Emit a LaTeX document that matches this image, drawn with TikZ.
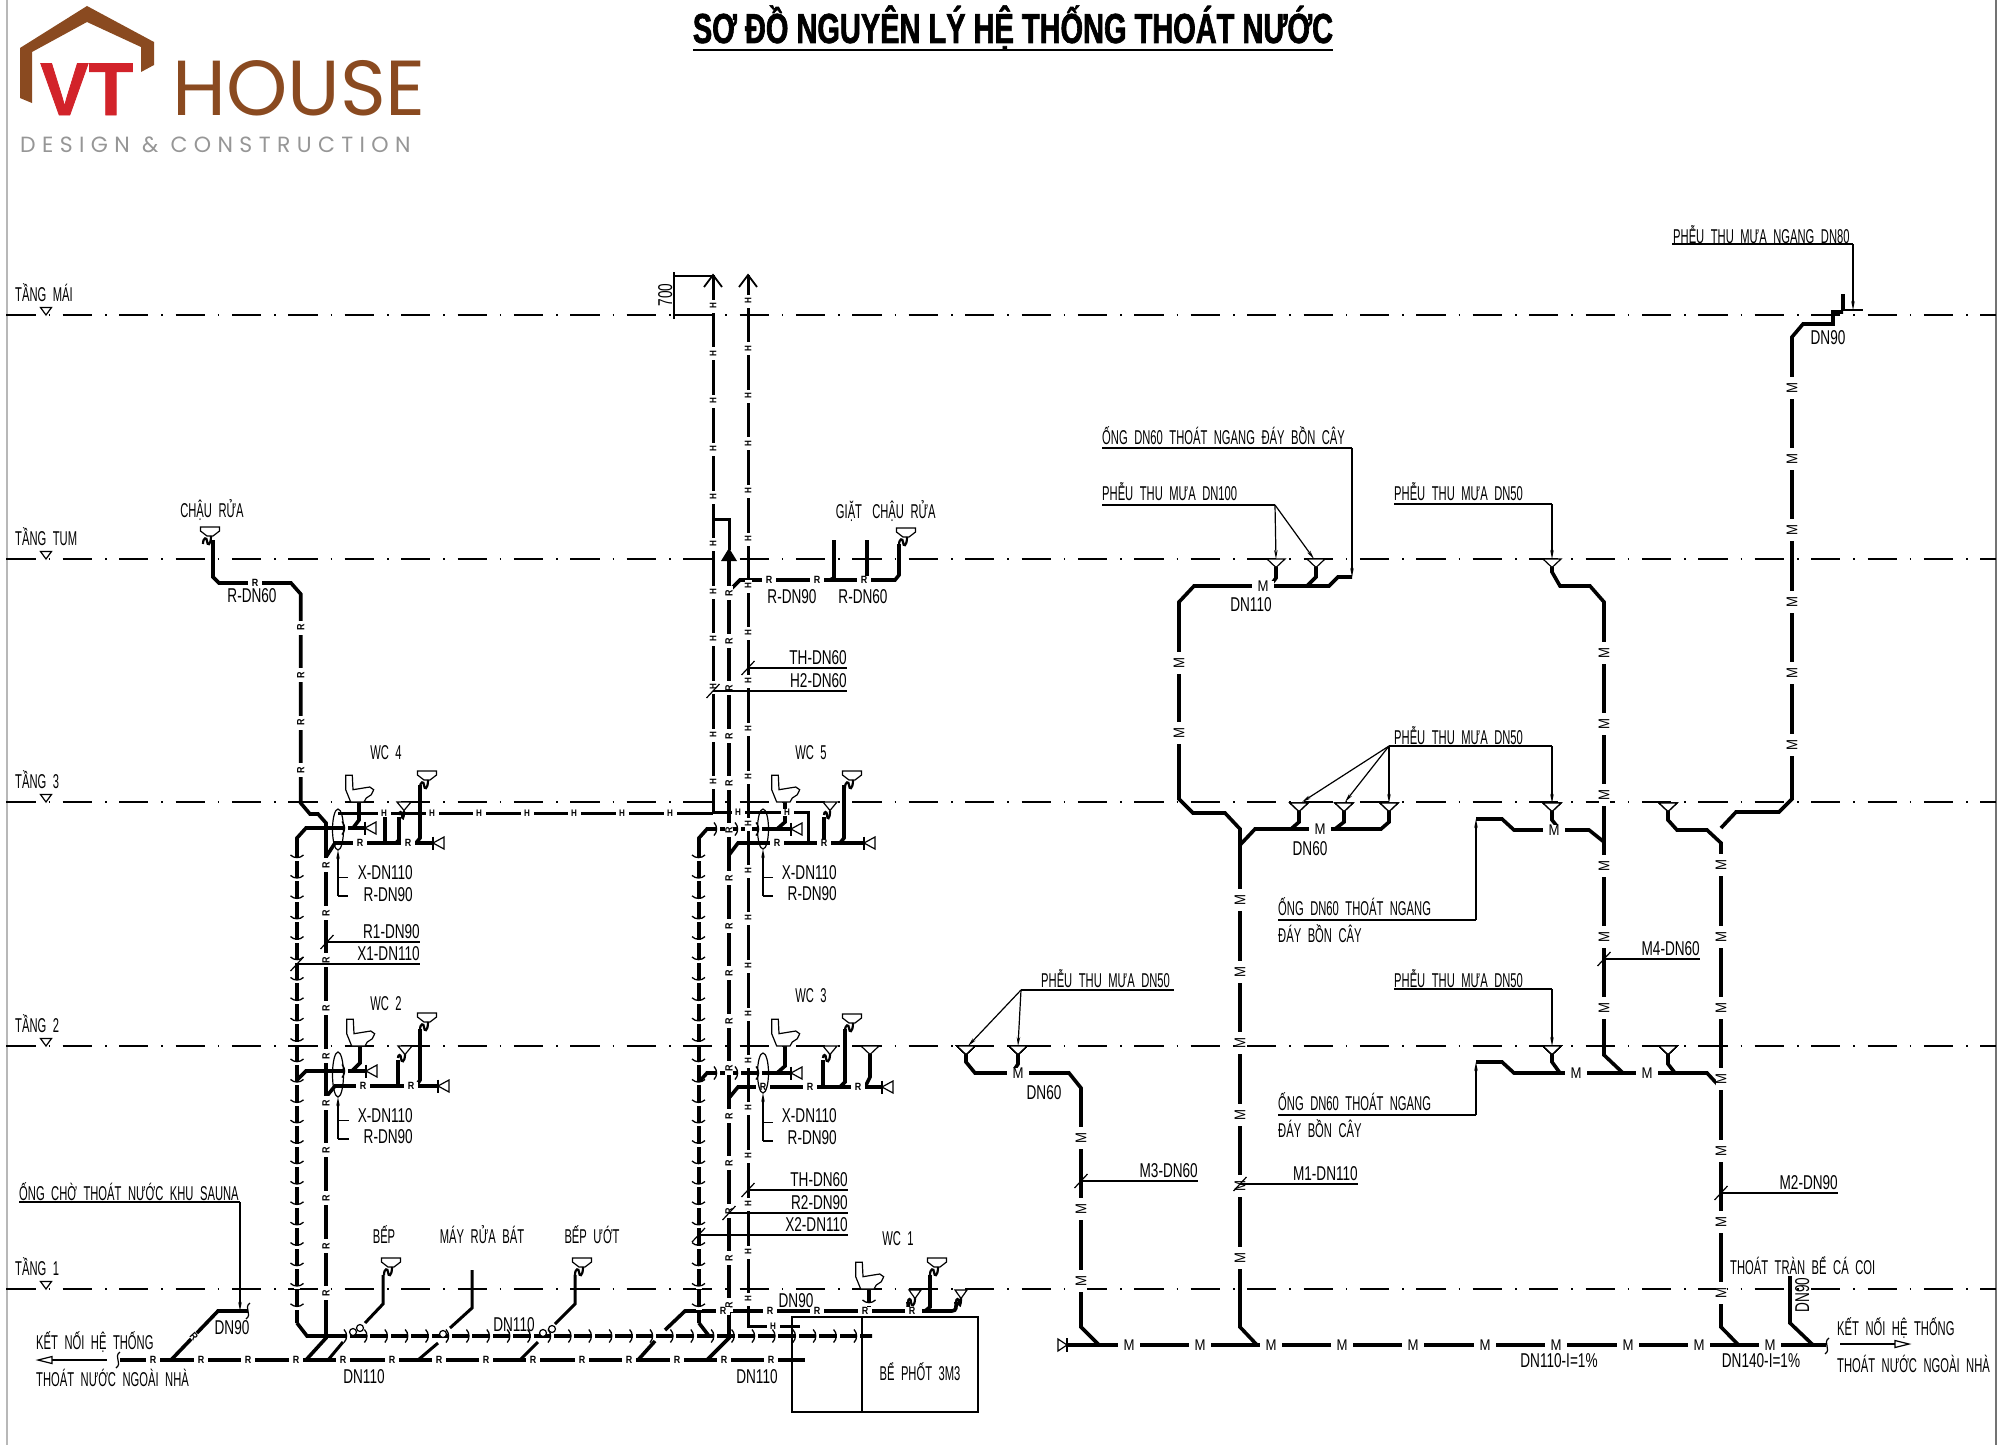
\documentclass[tikz,border=0pt]{standalone}
\usepackage{fontspec}
\usetikzlibrary{arrows.meta}
\setmainfont[FakeStretch=0.68]{Liberation Sans}
\newfontfamily\capfont[FakeStretch=0.56,WordSpace=2.1]{Liberation Sans}
\newfontfamily\tagfont[FakeStretch=0.85]{Liberation Sans}
\newfontfamily\ttlfont[FakeStretch=0.69,FakeBold=1.5]{Liberation Sans}
\newfontfamily\logofont{Poppins}
\newfontfamily\vtfont[FakeStretch=0.97,FakeBold=1]{Liberation Sans}
\newfontfamily\subfont[LetterSpace=29]{Poppins}
\definecolor{brownlogo}{HTML}{8A4A20}
\definecolor{redlogo}{HTML}{D2232A}
\definecolor{graylogo}{HTML}{969696}
\tikzset{x=1pt,y=-1pt,
 pipeT/.style={line width=3.6pt,miter limit=10},
 pipeM/.style={line width=3pt},
 pipeS/.style={line width=2.2pt},
 thinl/.style={line width=1.2pt},
 leader/.style={line width=1.2pt,-{Stealth[length=9pt,width=3.5pt]}},
 sym/.style={line width=1.2pt,fill=white},
 levelline/.style={line width=1.5pt,dash pattern=on 29.3pt off 13pt on 1.5pt off 12.6pt},
 txt/.style={inner sep=0pt,text height=14.3pt,text depth=0pt,font=\fontsize{20}{22}\selectfont},
 vtxt/.style={txt,font=\capfont\fontsize{20}{22}\selectfont},
 tagR/.style={inner sep=0pt,fill=white,minimum width=14pt,minimum height=8pt,font=\tagfont\fontsize{10.5}{10}\bfseries\selectfont},
 tagH/.style={inner sep=0pt,fill=white,minimum width=13pt,minimum height=7pt,font=\tagfont\fontsize{9.5}{9}\bfseries\selectfont},
 tagM/.style={inner sep=0pt,fill=white,minimum width=22pt,minimum height=11pt,font=\tagfont\fontsize{15.5}{14}\selectfont},
}
\newcommand\sinkT[2]{%
 \draw[sym] (#1-9.5,#2)--(#1+9.5,#2)--(#1+9.5,#2+4)--(#1+3,#2+9)--(#1-3,#2+9)--(#1-9.5,#2+4)--cycle;
 \draw[pipeS] (#1-7,#2+17) .. controls (#1-7,#2+10) and (#1-3,#2+10) .. (#1-3,#2+14) .. controls (#1-3,#2+19) and (#1+1,#2+19) .. (#1+1,#2+9);}
\newcommand\fun[3]{\draw[sym] (#1-#3,#2)--(#1+#3,#2)--(#1,#2+8.5)--cycle;}
\newcommand\trapF[3]{\draw[pipeS] (#1,#3+4) .. controls (#1,#3) and (#1+3,#3) .. (#1+3,#3+4) .. controls (#1+3,#3+9) and (#2,#3+9) .. (#2,#3);}
\newcommand\toil[2]{\begin{scope}[shift={(#1,#2)}]
 \draw[sym] (-13.3,-26.7)--(-6.7,-26.7)--(-6,-12.3)--(10.7,-15)--(14.7,-12.3)--(12.3,-7.3)--(7.3,-4)--(5,0)--(-8.3,0)--(-13.3,-12.3)--cycle;
 \end{scope}}
\newcommand\cleanL[2]{\draw[line width=1.6pt] (#1,#2-6.5)--(#1,#2+6.5);\draw[sym] (#1,#2)--(#1+11,#2-6)--(#1+11,#2+6)--cycle;}
\newcommand\jv[2]{\fill[white] (#1-3,#2)rectangle(#1+3,#2+3);\draw[line width=1.3pt] (#1-6.5,#2-3) .. controls (#1-3,#2+0.5) and (#1+3,#2+0.5) .. (#1+6.5,#2-3);}
\newcommand\jh[2]{\fill[white] (#1,#2-3)rectangle(#1+3,#2+3);\draw[line width=1.3pt] (#1-3,#2-6.5) .. controls (#1+0.5,#2-3) and (#1+0.5,#2+3) .. (#1-3,#2+6.5);}
\newcommand\squig[2]{\draw[line width=1.2pt] (#1+2,#2-8) .. controls (#1-5,#2-3) and (#1+5,#2+3) .. (#1-2,#2+8);}
\newcommand\slashT[2]{\draw[line width=1.2pt] (#1-6.5,#2+7)--(#1+6.5,#2-7);}
\newcommand\openL[2]{\draw[line width=1.2pt,fill=white] (#1,#2)--(#1+14,#2-3.5)--(#1+14,#2+3.5)--cycle;}
\newcommand\openR[2]{\draw[line width=1.2pt,fill=white] (#1,#2)--(#1-14,#2-3.5)--(#1-14,#2+3.5)--cycle;}
\newcommand\levmark[3]{\draw[sym] (40.5,#1-7.5)--(51.5,#1-7.5)--(46,#1)--cycle;
 \node[vtxt,anchor=west] (#3) at (15,#1-21) {#2};}
\begin{document}
\begin{tikzpicture}
\useasboundingbox (0,0) rectangle (2000,1445);
\fill[white] (0,0) rectangle (2000,1445);
\draw[line width=2.5pt,color=black!28] (7,0)--(7,1445);
\draw[line width=1.2pt,color=black!55] (1996,0)--(1996,1445);
% ---- logo
\fill[brownlogo] (87,6)--(154,42)--(154,65)--(141,72)--(141,47)--(87,22)--(32,52)--(32,103)--(20,98)--(20,48)--cycle;
\node[inner sep=0pt,anchor=base west,text=redlogo,text depth=0pt,font=\vtfont\fontsize{75}{75}\bfseries\selectfont] (vt) at (40,115) {VT};
\node[inner sep=0pt,anchor=base west,text=brownlogo,text depth=0pt,font=\logofont\fontsize{78}{78}\selectfont] (house) at (172,115) {HOUSE};
\node[inner sep=0pt,anchor=base west,text=graylogo,font=\subfont\fontsize{22}{22}\selectfont] (sub) at (20,152) {DESIGN \& CONSTRUCTION};
% ---- title
\node[inner sep=0pt,anchor=base,font=\ttlfont\fontsize{42}{42}\bfseries\selectfont] (title) at (1013,43) {SƠ ĐỒ NGUYÊN LÝ HỆ THỐNG THOÁT NƯỚC};
\draw[line width=1.8pt] (693,50)--(1333,50);
% ======== LEFT GROUP pipes
\draw[pipeT] (213,540)--(213,577)--(219,583)--(291,583)--(300.7,594)--(300.7,803)--(310,814)--(318,814)--(326,823)--(326,1338)--(306,1360);
\draw[pipeT] (297,1323)--(297,838)--(306,828)--(365,828);
\draw[pipeT] (297,1323)--(307,1336)--(872,1336);
\draw[pipeT] (326,857)--(335,843)--(433,843);
\draw[pipeT] (359,802)--(359,820)--(353,828);
\draw[pipeM] (338,813)--(713,813);
\draw[pipeT] (385,813)--(385,843);
\draw[pipeT] (399,817)--(399,840)--(396,843);
\draw[pipeT] (420,785)--(420,838)--(416,843);
\draw[pipeT] (297,1080)--(306,1071)--(366,1071);
\draw[pipeT] (360,1046)--(360,1063)--(352,1071);
\draw[pipeT] (326,1097)--(335,1086)--(438,1086);
\draw[pipeT] (398,1060)--(398,1086);
\draw[pipeT] (420,1029)--(420,1080)--(416,1086);
% bottom R
\draw[pipeT] (120,1360)--(805,1360);
\draw[pipeT] (171,1360)--(218,1311)--(248,1311);
\draw[pipeM] (383,1275)--(383,1304)--(365,1323);
\draw[pipeM] (343,1342)--(328,1360);
\draw[pipeM] (472,1270)--(472,1308)--(450,1328);
\draw[pipeM] (438,1343)--(418,1360);
\draw[pipeM] (575,1275)--(575,1304)--(555,1324);
\draw[pipeM] (538,1342)--(520,1360);
\draw[pipeT] (638,1360)--(655,1341);
\draw[pipeT] (665,1330)--(685,1311)--(905,1311);
\draw[pipeT] (905,1311) .. controls (909,1311) and (908,1306) .. (908,1302);
\draw[pipeT] (922,1311)--(952,1311) .. controls (957,1311) and (956,1306) .. (956,1302);
\draw[pipeT] (930,1275)--(930,1307)--(925,1311);
\draw[pipeT] (869,1289)--(869,1311);
% ======== MIDDLE GROUP pipes
\draw[pipeM] (713,275)--(713,813);
\draw[pipeM] (748,275)--(748,1326)--(800,1326);
\draw[line width=1.8pt] (704,287)--(713,275)--(722,287);
\draw[line width=1.8pt] (739,287)--(748,275)--(757,287);
\draw[pipeM] (713,519)--(729,519)--(729,550);
\fill (721,561)--(729,548)--(737,561)--cycle;
\draw[pipeT] (729,561)--(729,1338)--(707,1360);
\draw[pipeT] (727,593)--(740,580)--(895,580)--(899,575)--(899,544);
\draw[pipeT] (834,540)--(834,578)--(830,580);
\draw[pipeT] (867,540)--(867,580);
\draw[pipeM] (713,812)--(808,812)--(808,843);
\draw[pipeT] (699,1323)--(699,838)--(707,829)--(791,829);
\draw[pipeT] (699,1323)--(709,1336);
\draw[pipeT] (729,855)--(738,843)--(864,843);
\draw[pipeT] (785,802)--(785,822)--(777,829);
\draw[pipeT] (824,817)--(824,843);
\draw[pipeT] (844,785)--(844,838)--(840,843);
\draw[pipeT] (699,1082)--(707,1073)--(791,1073);
\draw[pipeT] (785,1046)--(785,1066)--(777,1073);
\draw[pipeT] (729,1098)--(738,1087)--(882,1087);
\draw[pipeT] (823,1060)--(823,1087);
\draw[pipeT] (845,1029)--(845,1082)--(840,1087);
\draw[pipeT] (870,1054)--(870,1077)--(865,1087);
% septic tank
\draw[line width=1.6pt] (792,1317) rectangle (978,1412);
\draw[line width=1.6pt] (862,1317)--(862,1412);
% ======== RIGHT GROUP pipes
\draw[pipeT] (1352,577)--(1338,577)--(1329,586)--(1194,586)--(1179,602)--(1179,799)--(1193,813)--(1225,813)--(1240,829)--(1240,1327)--(1257,1345);
\draw[pipeT] (1276,567)--(1276,578)--(1270,586);
\draw[pipeT] (1316,567)--(1316,577)--(1307,586);
\draw[pipeT] (1240,845)--(1255,829)--(1381,829)--(1389,822)--(1389,811);
\draw[pipeT] (1299,811)--(1299,822)--(1291,829);
\draw[pipeT] (1344,811)--(1344,822)--(1335,829);
\draw[pipeT] (1067,1345)--(1826,1345);
\draw[pipeT] (966,1054)--(966,1062)--(975,1073)--(1069,1073)--(1081,1088)--(1081,1327)--(1099,1345);
\draw[pipeT] (1018,1054)--(1018,1064)--(1012,1073);
\draw[pipeT] (1552,567)--(1552,572)--(1560,586)--(1590,586)--(1604,602)--(1604,1055)--(1623,1073);
\draw[pipeT] (1476,819)--(1502,819)--(1514,830)--(1589,830)--(1604,842);
\draw[pipeT] (1552,811)--(1552,820)--(1560,830);
\draw[pipeT] (1476,1062)--(1502,1062)--(1514,1073)--(1707,1073)--(1721,1088)--(1721,1327)--(1738.5,1345);
\draw[pipeT] (1552,1054)--(1552,1062)--(1560,1073);
\draw[pipeT] (1668,1054)--(1668,1064)--(1675,1073);
\draw[pipeT] (1668,811)--(1668,820)--(1677,830)--(1707,830)--(1721,843)--(1721,1088);
\draw[pipeT] (1721,828)--(1736,812)--(1779,812)--(1792,799)--(1792,337)--(1803,324)--(1833,324)--(1833,312)--(1843,312);
\draw[pipeS] (1843,310)--(1863,310);
\draw[pipeT] (1843,294)--(1843,310);
\draw[pipeT] (1790,1276)--(1790,1323)--(1813,1345)--(1826,1345);
% ======== level lines
\foreach \lv in {315,559,802,1046,1289} \draw[levelline] (6.3,\lv)--(1996,\lv);
% ======== pipe labels
\foreach \y in {627.5,675,722.5,770} \node[tagR,rotate=90] (rA\y) at (300.7,\y) {R};
\foreach \y in {865,913,960,1008,1056,1103,1150,1198,1246,1293} \node[tagR,rotate=90] (rB\y) at (326,\y) {R};
\foreach \y in {593,641,688,736,783,830,878,926,973,1021,1068,1116,1163,1211,1258,1305} \node[tagR,rotate=90] (rC\y) at (729,\y) {R};
\foreach \x in {255} \node[tagR] (rD\x) at (\x,583) {R};
\foreach \x in {153,201,248,296,343,392,439,486,533,582,629,677,724,771} \node[tagR] (rE\x) at (\x,1360) {R};
\node[tagR,rotate=-48] (rF) at (194,1336) {R};
\foreach \x in {723,770,817,865,912} \node[tagR] (rG\x) at (\x,1311) {R};
\foreach \x in {769,817,864} \node[tagR] (rH\x) at (\x,580) {R};
\foreach \x in {360,408} \node[tagR] (rI\x) at (\x,843) {R};
\foreach \x in {363,411} \node[tagR] (rJ\x) at (\x,1086) {R};
\foreach \x in {777,824} \node[tagR] (rK\x) at (\x,843) {R};
\foreach \x in {763,810,858} \node[tagR] (rL\x) at (\x,1087) {R};
\foreach \y in {306,353.6,401,449,497,544,592,639,687,735,782} \node[tagH,rotate=90] (hA\y) at (713,\y) {H};
\foreach \y in {301,348.5,396,443.5,491,539,586,633,681,729,777,824,871,918,966,1014,1061,1108,1156,1204,1252,1299} \node[tagH,rotate=90] (hB\y) at (748,\y) {H};
\foreach \x in {384,432,479,527,574,622,670} \node[tagH] (hC\x) at (\x,813) {H};
\foreach \x in {738,787} \node[tagH] (hD\x) at (\x,812) {H};
\node[tagH] (hE) at (773,1326) {H};
\foreach \y in {663,733} \node[tagM,rotate=90] (mA\y) at (1179,\y) {M};
\foreach \y in {900,971.6,1043,1114.8,1186.4,1258} \node[tagM,rotate=90] (mB\y) at (1240,\y) {M};
\foreach \y in {1138,1209,1281} \node[tagM,rotate=90] (mC\y) at (1081,\y) {M};
\foreach \y in {653,724,795,866,937,1008} \node[tagM,rotate=90] (mD\y) at (1604,\y) {M};
\foreach \y in {865,937,1008,1079,1151,1222,1293} \node[tagM,rotate=90] (mE\y) at (1721,\y) {M};
\foreach \y in {388,459,530,602,673,745} \node[tagM,rotate=90] (mF\y) at (1792,\y) {M};
\foreach \x in {1129,1200,1271,1342,1413,1485,1556,1628,1699,1770} \node[tagM] (mG\x) at (\x,1345) {M};
\node[tagM] (mH) at (1263,586) {M};
\node[tagM] (mI) at (1320,829) {M};
\node[tagM] (mJ) at (1018,1073) {M};
\node[tagM] (mK) at (1554,830) {M};
\node[tagM] (mL) at (1576,1073) {M};
\node[tagM] (mM) at (1647,1073) {M};
% ======== joints on waste risers
\foreach \k in {0,...,22} {\pgfmathsetmacro\yy{858+20.4*\k}\jv{297}{\yy}\jv{698.5}{\yy}}
\foreach \k in {0,...,25} {\pgfmathsetmacro\xx{347+20.4*\k}\jh{\xx}{1336}}
\jh{345}{828}\jh{345}{1071}
\jh{717}{829}\jh{738}{829}\jh{759}{829}\jh{717}{1073}\jh{738}{1073}\jh{759}{1073}
\jv{869}{1303}
% crossing circles
\foreach \cx/\cy in {353/1332,360/1328,443/1334,543/1333,552/1329} \draw[sym] (\cx,\cy) circle (3.5pt);
% ======== fixtures
\sinkT{210}{527}
\sinkT{427}{771}\trapF{399}{404}{811}\fun{404}{802}{7}
\sinkT{427}{1013}\trapF{398}{405}{1054}\fun{405}{1046}{7}
\sinkT{852}{771}\trapF{824}{830}{811}\fun{830}{802}{7}
\sinkT{852}{1014}\trapF{823}{830}{1054}\fun{830}{1046}{7}
\sinkT{906}{528}
\sinkT{391}{1258}\sinkT{582}{1258}\sinkT{937}{1258}
\fun{870}{1046}{9}
\trapF{908}{915}{1298}\fun{915}{1290}{6}
\trapF{956}{961}{1298}\fun{961}{1290}{6}
\toil{359}{802}\toil{360}{1046}\toil{785}{802}\toil{785}{1046}\toil{869}{1289}
\cleanL{365}{828}\cleanL{433}{843}\cleanL{366}{1071}\cleanL{438}{1086}
\cleanL{791}{829}\cleanL{864}{843}\cleanL{791}{1073}\cleanL{882}{1087}
\foreach \fx in {1276,1316,1552} \fun{\fx}{559}{9}
\foreach \fx in {1299,1344,1389,1552,1668} \fun{\fx}{803}{9}
\foreach \fx in {966,1018,1552,1668} \fun{\fx}{1046}{9}
\draw[line width=1.6pt] (1067,1338)--(1067,1352);
\draw[sym] (1067,1345)--(1058,1339)--(1058,1351)--cycle;
% ovals
\draw[line width=1.2pt] (338,829.5) ellipse (5.5pt and 20.5pt);
\draw[line width=1.2pt] (338,1074.5) ellipse (5.5pt and 22.5pt);
\draw[line width=1.2pt] (763,829) ellipse (5.5pt and 20pt);
\draw[line width=1.2pt] (763,1073) ellipse (5.5pt and 20pt);
% ======== squiggles & outlet arrows
\squig{118}{1360}\squig{248}{1311}\squig{1827}{1346}
\draw[thinl] (107,1360)--(52,1360);\openL{38}{1360}
\draw[thinl] (1840,1344)--(1895,1344);\openR{1909}{1344}
% ======== dimension
\draw[thinl] (674,276)--(713,276);\draw[thinl] (674,315)--(713,315);\draw[thinl] (674,272)--(674,319);
\node[txt,rotate=90] (d700) at (665,295) {700};
% ======== level labels
\levmark{315}{TẦNG MÁI}{l1}\levmark{559}{TẦNG TUM}{l2}\levmark{802}{TẦNG 3}{l3}\levmark{1046}{TẦNG 2}{l4}\levmark{1289}{TẦNG 1}{l5}
% ======== WC & fixture labels
\node[vtxt] (w4) at (386,752) {WC 4};
\node[vtxt] (w2) at (386,1003) {WC 2};
\node[vtxt] (w5) at (811,752) {WC 5};
\node[vtxt] (w3) at (811,995) {WC 3};
\node[vtxt] (w1) at (898,1238) {WC 1};
\node[vtxt] (c1) at (212,510) {CHẬU RỬA};
\node[txt] (c2) at (252,595) {R-DN60};
\node[vtxt] (c3) at (849,511) {GIẶT};
\node[vtxt] (c4) at (904,511) {CHẬU RỬA};
\node[txt] (c5) at (792,596) {R-DN90};
\node[txt] (c6) at (863,596) {R-DN60};
\node[vtxt] (b1) at (384,1236) {BẾP};
\node[vtxt] (b2) at (482,1236) {MÁY RỬA BÁT};
\node[vtxt] (b3) at (592,1236) {BẾP ƯỚT};
\node[txt] (b4) at (514,1324) {DN110};
\node[txt] (b5) at (364,1376) {DN110};
\node[txt] (b6) at (757,1376) {DN110};
\node[txt] (b7) at (796,1300) {DN90};
\node[txt] (b8) at (232,1327) {DN90};
\node[vtxt] (b9) at (920,1373) {BỂ PHỐT 3M3};
% WC leaders
\foreach \ax/\ay/\by/\ex in {338/850/896/348,338/1097/1139/349,763/849/896/773,763/1093/1141/773}
 {\draw[leader] (\ax,\by)--(\ax,\ay);\draw[thinl] (\ax,\by)--(\ex,\by);\draw[thinl] (\ax,\by-18.5)--(\ex,\by-18.5);}
\node[txt,anchor=east] (x1) at (413,872) {X-DN110};
\node[txt,anchor=east] (x2) at (413,894) {R-DN90};
\node[txt,anchor=east] (x3) at (413,1115) {X-DN110};
\node[txt,anchor=east] (x4) at (413,1136) {R-DN90};
\node[txt,anchor=east] (x5) at (837,872) {X-DN110};
\node[txt,anchor=east] (x6) at (837,893) {R-DN90};
\node[txt,anchor=east] (x7) at (837,1115) {X-DN110};
\node[txt,anchor=east] (x8) at (837,1137) {R-DN90};
% riser tags
\foreach \sx/\ex/\ly/\tx/\tn in {327/420/942/R1-DN90/a1,297/420/964/X1-DN110/a2,748/847/668/TH-DN60/a3,713/847/691/H2-DN60/a4,748/848/1190/TH-DN60/a5,729/848/1213/R2-DN90/a6,698.5/848/1235/X2-DN110/a7,1604/1700/959/M4-DN60/a8,1081/1198/1181/M3-DN60/a9,1240/1358/1184/M1-DN110/a10,1721/1838/1193/M2-DN90/a11}
 {\draw[thinl] (\sx,\ly)--(\ex,\ly);\slashT{\sx}{\ly}\node[txt,anchor=base east] (\tn) at (\ex,\ly-4) {\tx};}
% sauna
\draw[thinl] (19,1202)--(240,1202);\draw[leader] (240,1202)--(240,1311);
\node[vtxt,anchor=west] (s1) at (19,1193) {ỐNG CHỜ THOÁT NƯỚC KHU SAUNA};
\node[vtxt,anchor=west] (k1) at (36,1342) {KẾT NỐI HỆ THỐNG};
\node[vtxt,anchor=west] (k2) at (36,1379) {THOÁT NƯỚC NGOÀI NHÀ};
\node[vtxt,anchor=west] (k3) at (1837,1328) {KẾT NỐI HỆ THỐNG};
\node[vtxt,anchor=west] (k4) at (1837,1365) {THOÁT NƯỚC NGOÀI NHÀ};
\node[vtxt,anchor=west] (k5) at (1730,1267) {THOÁT TRÀN BỂ CÁ COI};
\node[txt,rotate=90] (k6) at (1802,1295) {DN90};
\node[txt] (k7) at (1559,1360) {DN110-I=1\%};
\node[txt] (k8) at (1761,1360) {DN140-I=1\%};
% right leaders
\node[vtxt,anchor=west] (p1) at (1102,437) {ỐNG DN60 THOÁT NGANG ĐÁY BỒN CÂY};
\draw[thinl] (1102,448)--(1352,448);\draw[leader] (1352,448)--(1352,577);
\node[vtxt,anchor=west] (p2) at (1102,493) {PHỄU THU MƯA DN100};
\draw[thinl] (1102,505)--(1275,505);\draw[leader] (1275,505)--(1276,559);\draw[leader] (1275,505)--(1314,559);
\node[vtxt,anchor=west] (p3) at (1394,493) {PHỄU THU MƯA DN50};
\draw[thinl] (1394,504)--(1552,504);\draw[leader] (1552,504)--(1552,559);
\node[txt] (p4) at (1251,604) {DN110};
\node[txt] (p5) at (1310,848) {DN60};
\node[vtxt,anchor=west] (p6) at (1394,737) {PHỄU THU MƯA DN50};
\draw[thinl] (1389,746)--(1552,746);\draw[leader] (1552,746)--(1552,803);
\draw[leader] (1389,746)--(1302,802);\draw[leader] (1389,746)--(1345,802);\draw[leader] (1389,746)--(1389,803);
\node[vtxt,anchor=west] (p7) at (1278,908) {ỐNG DN60 THOÁT NGANG};
\node[vtxt,anchor=west] (p8) at (1278,935) {ĐÁY BỒN CÂY};
\draw[thinl] (1278,920)--(1476,920);\draw[leader] (1476,920)--(1476,819);
\node[vtxt,anchor=west] (p9) at (1278,1103) {ỐNG DN60 THOÁT NGANG};
\node[vtxt,anchor=west] (p10) at (1278,1130) {ĐÁY BỒN CÂY};
\draw[thinl] (1278,1115)--(1476,1115);\draw[leader] (1476,1115)--(1476,1062);
\node[vtxt,anchor=west] (p11) at (1394,980) {PHỄU THU MƯA DN50};
\draw[thinl] (1394,989)--(1552,989);\draw[leader] (1552,989)--(1552,1046);
\node[vtxt,anchor=west] (p12) at (1041,980) {PHỄU THU MƯA DN50};
\draw[thinl] (1021,990)--(1174,990);\draw[leader] (1021,990)--(968,1046);\draw[leader] (1021,990)--(1018,1046);
\node[txt] (p13) at (1044,1092) {DN60};
\node[vtxt,anchor=west] (p14) at (1673,236) {PHỄU THU MƯA NGANG DN80};
\draw[thinl] (1672,244)--(1853,244);\draw[leader] (1853,244)--(1853,310);
\node[txt] (p15) at (1828,337) {DN90};
\end{tikzpicture}
\end{document}
